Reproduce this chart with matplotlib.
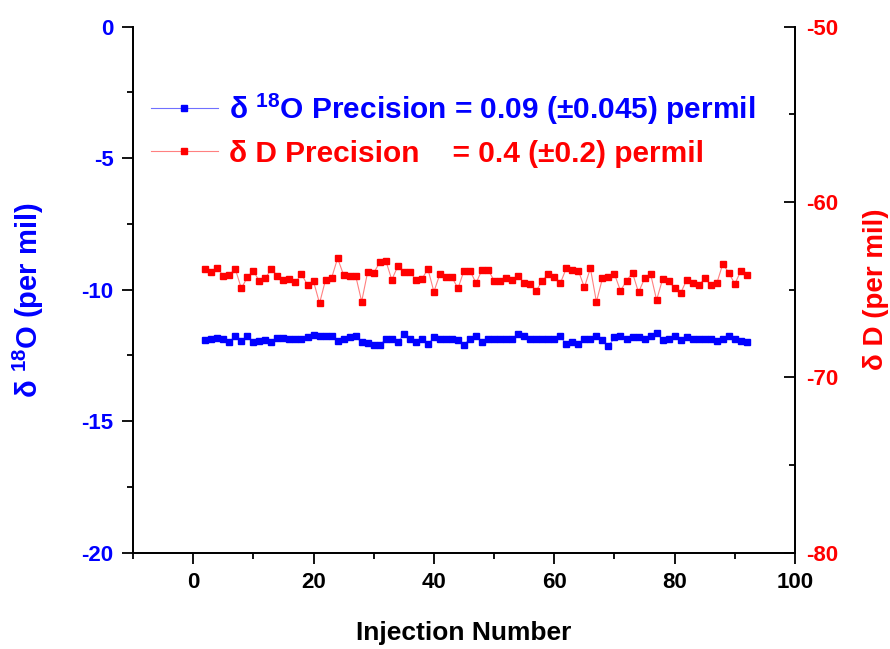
import matplotlib
matplotlib.use("Agg")
import matplotlib.pyplot as plt
from matplotlib.ticker import MultipleLocator

injection = list(range(2, 93))

d18O = [-11.91, -11.88, -11.84, -11.89, -12.01, -11.75, -11.96, -11.78, -12.00, -11.97, -11.90, -11.98, -11.84, -11.84, -11.86, -11.89,
        -11.86, -11.82, -11.73, -11.78, -11.78, -11.78, -11.96, -11.89, -11.82, -11.78, -12.01, -12.04, -12.11, -12.11, -11.89,
        -11.89, -12.01, -11.70, -11.86, -12.01, -11.89, -12.08, -11.82, -11.89, -11.89, -11.86, -11.91, -12.11, -11.86, -11.78,
        -12.01, -11.89, -11.86, -11.89, -11.86, -11.86, -11.70, -11.78, -11.89, -11.89, -11.89, -11.89, -11.86, -11.78, -12.08,
        -12.01, -12.08, -11.86, -11.86, -11.78, -11.91, -12.16, -11.82, -11.76, -11.89, -11.82, -11.82, -11.86, -11.78, -11.66,
        -11.90, -11.89, -11.78, -11.91, -11.82, -11.86, -11.86, -11.89, -11.86, -11.96, -11.89, -11.78, -11.89, -11.96, -12.01]

dD = [-63.82, -64.01, -63.76, -64.21, -64.15, -63.82, -64.93, -64.30, -63.92, -64.53, -64.34, -63.82, -64.21, -64.44, -64.40, -64.59,
      -64.11, -64.74, -64.53, -65.78, -64.44, -64.34, -63.21, -64.17, -64.21, -64.21, -65.68, -63.98, -64.05, -63.44, -63.34,
      -64.44, -63.67, -63.98, -63.98, -64.44, -64.40, -63.82, -65.12, -64.11, -64.30, -64.30, -64.93, -63.92, -63.92, -64.63,
      -63.86, -63.86, -64.49, -64.49, -64.36, -64.44, -64.21, -64.64, -64.68, -65.07, -64.49, -64.11, -64.30, -64.64, -63.78,
      -63.86, -63.92, -64.87, -63.78, -65.70, -64.36, -64.30, -64.11, -65.07, -64.49, -64.05, -65.16, -64.36, -64.11, -65.59,
      -64.40, -64.49, -64.93, -65.20, -64.44, -64.64, -64.74, -64.36, -64.74, -64.64, -63.53, -64.05, -64.68, -63.92, -64.15]

label_O = r"δ $^{\mathbf{18}}$O Precision = 0.09 (±0.045) permil"
label_D = "δ D Precision    = 0.4 (±0.2) permil"
xlabel = "Injection Number"
ylabel_left = r"δ $^{\mathbf{18}}$O (per mil)"
ylabel_right = "δ D (per mil)"

BLUE = "#0000ff"
RED = "#ff0000"

plt.rcParams['font.family'] = ['Liberation Sans', 'DejaVu Sans']
plt.rcParams['font.weight'] = 'bold'
plt.rcParams['axes.unicode_minus'] = False
plt.rcParams['mathtext.fontset'] = 'custom'
plt.rcParams['mathtext.bf'] = 'Liberation Sans:bold'
plt.rcParams['mathtext.rm'] = 'Liberation Sans:bold'

fig = plt.figure(figsize=(8.9, 6.49), dpi=100)
ax = fig.add_axes([0.1494, 0.1485, 0.7439, 0.8105])
ax2 = ax.twinx()

l1, = ax.plot(injection, d18O, color="#7070ff", lw=0.8, marker="s", ms=4.7,
              mfc=BLUE, mec=BLUE, label=label_O)
l2, = ax2.plot(injection, dD, color="#ff8080", lw=0.8, marker="s", ms=4.7,
               mfc=RED, mec=RED, label=label_D)

ax.set_xlim(-10, 100)
ax.set_ylim(-20, 0)
ax2.set_ylim(-80, -50)

ax.xaxis.set_major_locator(MultipleLocator(20))
ax.xaxis.set_minor_locator(MultipleLocator(10))
ax.yaxis.set_major_locator(MultipleLocator(5))
ax.yaxis.set_minor_locator(MultipleLocator(2.5))
ax2.yaxis.set_major_locator(MultipleLocator(10))
ax2.yaxis.set_minor_locator(MultipleLocator(5))

for a in (ax, ax2):
    a.spines['top'].set_visible(False)
    for s in a.spines.values():
        s.set_linewidth(1.3)

ax.tick_params(axis='x', which='major', direction='out', length=8, width=1.3, labelsize=16, pad=6)
ax.tick_params(axis='x', which='minor', direction='out', length=4, width=1.3)
ax.tick_params(axis='y', which='major', direction='out', length=8, width=1.3, labelsize=16, labelcolor=BLUE, pad=6)
ax.tick_params(axis='y', which='minor', direction='out', length=4, width=1.3)
ax2.tick_params(axis='y', which='major', direction='in', length=8, width=1.3, labelsize=16, labelcolor=RED, pad=8)
ax2.tick_params(axis='y', which='minor', direction='in', length=4, width=1.3)

for t in ax.get_xticklabels() + ax.get_yticklabels() + ax2.get_yticklabels():
    t.set_fontweight('bold')

ax.set_xlabel(xlabel, fontsize=19, fontweight='bold', labelpad=20)
ax.set_ylabel(ylabel_left, fontsize=21, fontweight='bold', color=BLUE)
ax.yaxis.set_label_coords(-0.131, 0.48)
ax2.set_ylabel(ylabel_right, fontsize=20, fontweight='bold', color=RED, labelpad=18)

leg = ax.legend(handles=[l1, l2], loc='upper left', bbox_to_anchor=(0.0, 0.912),
                frameon=False, fontsize=21.5, handlelength=2.25, handletextpad=0.37,
                labelspacing=0.43, borderaxespad=0.3, borderpad=0.3)
for txt, c in zip(leg.get_texts(), [BLUE, RED]):
    txt.set_color(c)
    txt.set_fontweight('bold')

fig.savefig("out.png", dpi=100)
